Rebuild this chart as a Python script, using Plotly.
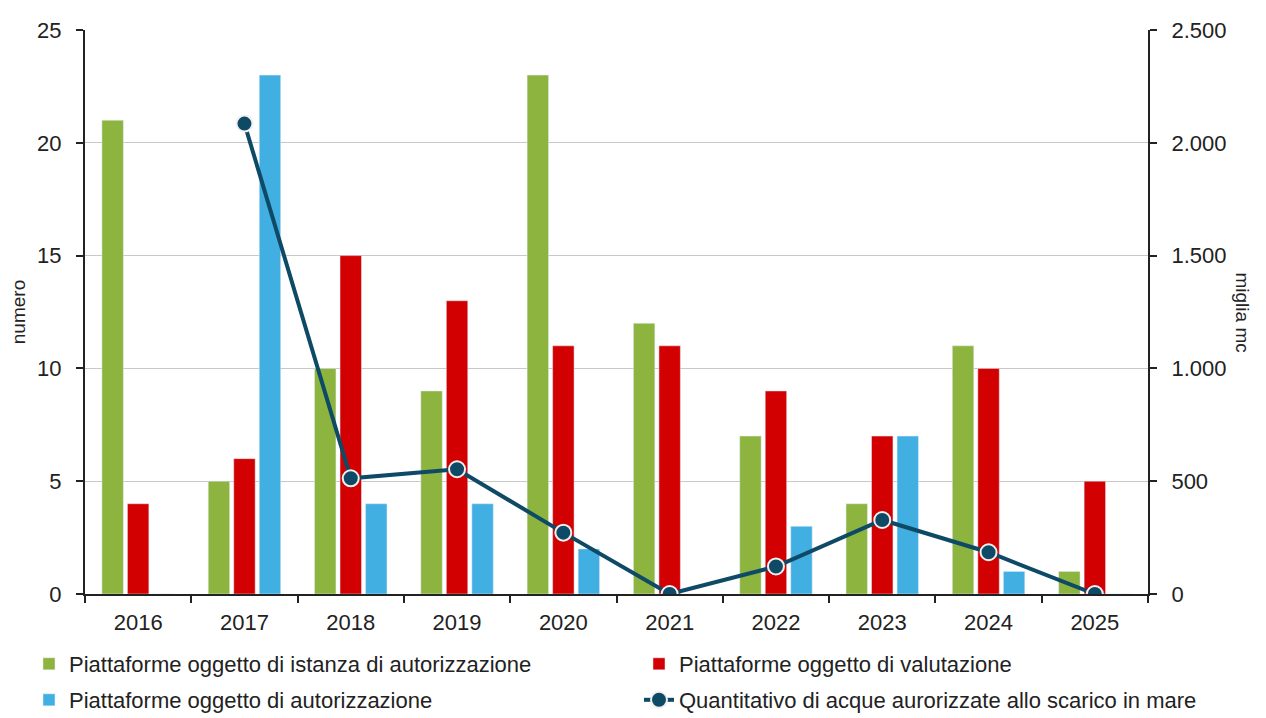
import plotly.graph_objects as go

years = ["2016", "2017", "2018", "2019", "2020", "2021", "2022", "2023", "2024", "2025"]
istanza = [21, 5, 10, 9, 23, 12, 7, 4, 11, 1]
valutazione = [4, 6, 15, 13, 11, 11, 9, 7, 10, 5]
autorizzazione = [0, 23, 4, 4, 2, 0, 3, 7, 1, 0]
acque = [None, 2085, 513, 553, 272, 0, 122, 328, 185, 0]

names = [
    "Piattaforme oggetto di istanza di autorizzazione",
    "Piattaforme oggetto di valutazione",
    "Piattaforme oggetto di autorizzazione",
    "Quantitativo di acque aurorizzate allo scarico in mare",
]

FONT = "Liberation Sans, Arial, sans-serif"
FS = 22
W, H = 1258, 710

fig = go.Figure()
fig.add_trace(go.Bar(x=years, y=istanza, name=names[0], marker_color="#8cb43f", legend="legend"))
fig.add_trace(go.Bar(x=years, y=valutazione, name=names[1], marker_color="#d20000", legend="legend2"))
fig.add_trace(go.Bar(x=years, y=autorizzazione, name=names[2], marker_color="#42afe3", legend="legend3"))
fig.add_trace(go.Scatter(
    x=years, y=acque, name=names[3], yaxis="y2", mode="lines+markers",
    line=dict(color="#0e4a66", width=4),
    marker=dict(size=16, color="#0e4a66", line=dict(color="#f0f0f0", width=2)),
    connectgaps=False, legend="legend4",
))


def leg(xpx, ypage):
    return dict(
        orientation="h", xref="container", yref="container",
        x=xpx / W, y=1 - (ypage - 8) / H, xanchor="left", yanchor="middle",
        font=dict(size=22, family=FONT, color="#222222"),
        itemwidth=30, bgcolor="rgba(0,0,0,0)",
    )


fig.update_layout(
    width=W, height=H,
    paper_bgcolor="white", plot_bgcolor="white",
    font=dict(family=FONT, size=FS, color="#222222"),
    separators=",.",
    barmode="group", bargap=0.28, bargroupgap=0.16,
    margin=dict(l=77, r=118, t=22, b=124, autoexpand=False),
    showlegend=True,
    legend=leg(21, 664),
    legend2=leg(631, 664),
    legend3=leg(21, 700),
    legend4=leg(631, 700),
    xaxis=dict(
        type="category", range=[-0.5, len(years) - 0.5],
        showline=True, linecolor="#222222", linewidth=2,
        ticks="outside", tickson="boundaries", ticklen=7, tickcolor="#222222", tickwidth=2,
        showgrid=False, ticklabelstandoff=8,
    ),
    yaxis=dict(
        range=[0, 25], dtick=5, showline=True, linecolor="#222222", linewidth=2,
        ticks="outside", ticklen=7, tickcolor="#222222", tickwidth=2,
        gridcolor="#c8c8c8", gridwidth=1, zeroline=False,
        title=dict(text="numero", font=dict(size=19), standoff=14),
        ticklabelstandoff=10,
    ),
    yaxis2=dict(
        range=[0, 2500], dtick=500, overlaying="y", side="right",
        showline=True, linecolor="#222222", linewidth=2,
        ticks="outside", ticklen=7, tickcolor="#222222", tickwidth=2,
        showgrid=False, zeroline=False, separatethousands=True, tickformat=",d",
        ticklabelstandoff=10,
    ),
    annotations=[dict(
        text="miglia mc", textangle=90, xref="paper", yref="paper",
        x=1.0, y=0.5, xshift=107, showarrow=False, font=dict(size=19),
    )],
)

fig.write_html("out.html")
